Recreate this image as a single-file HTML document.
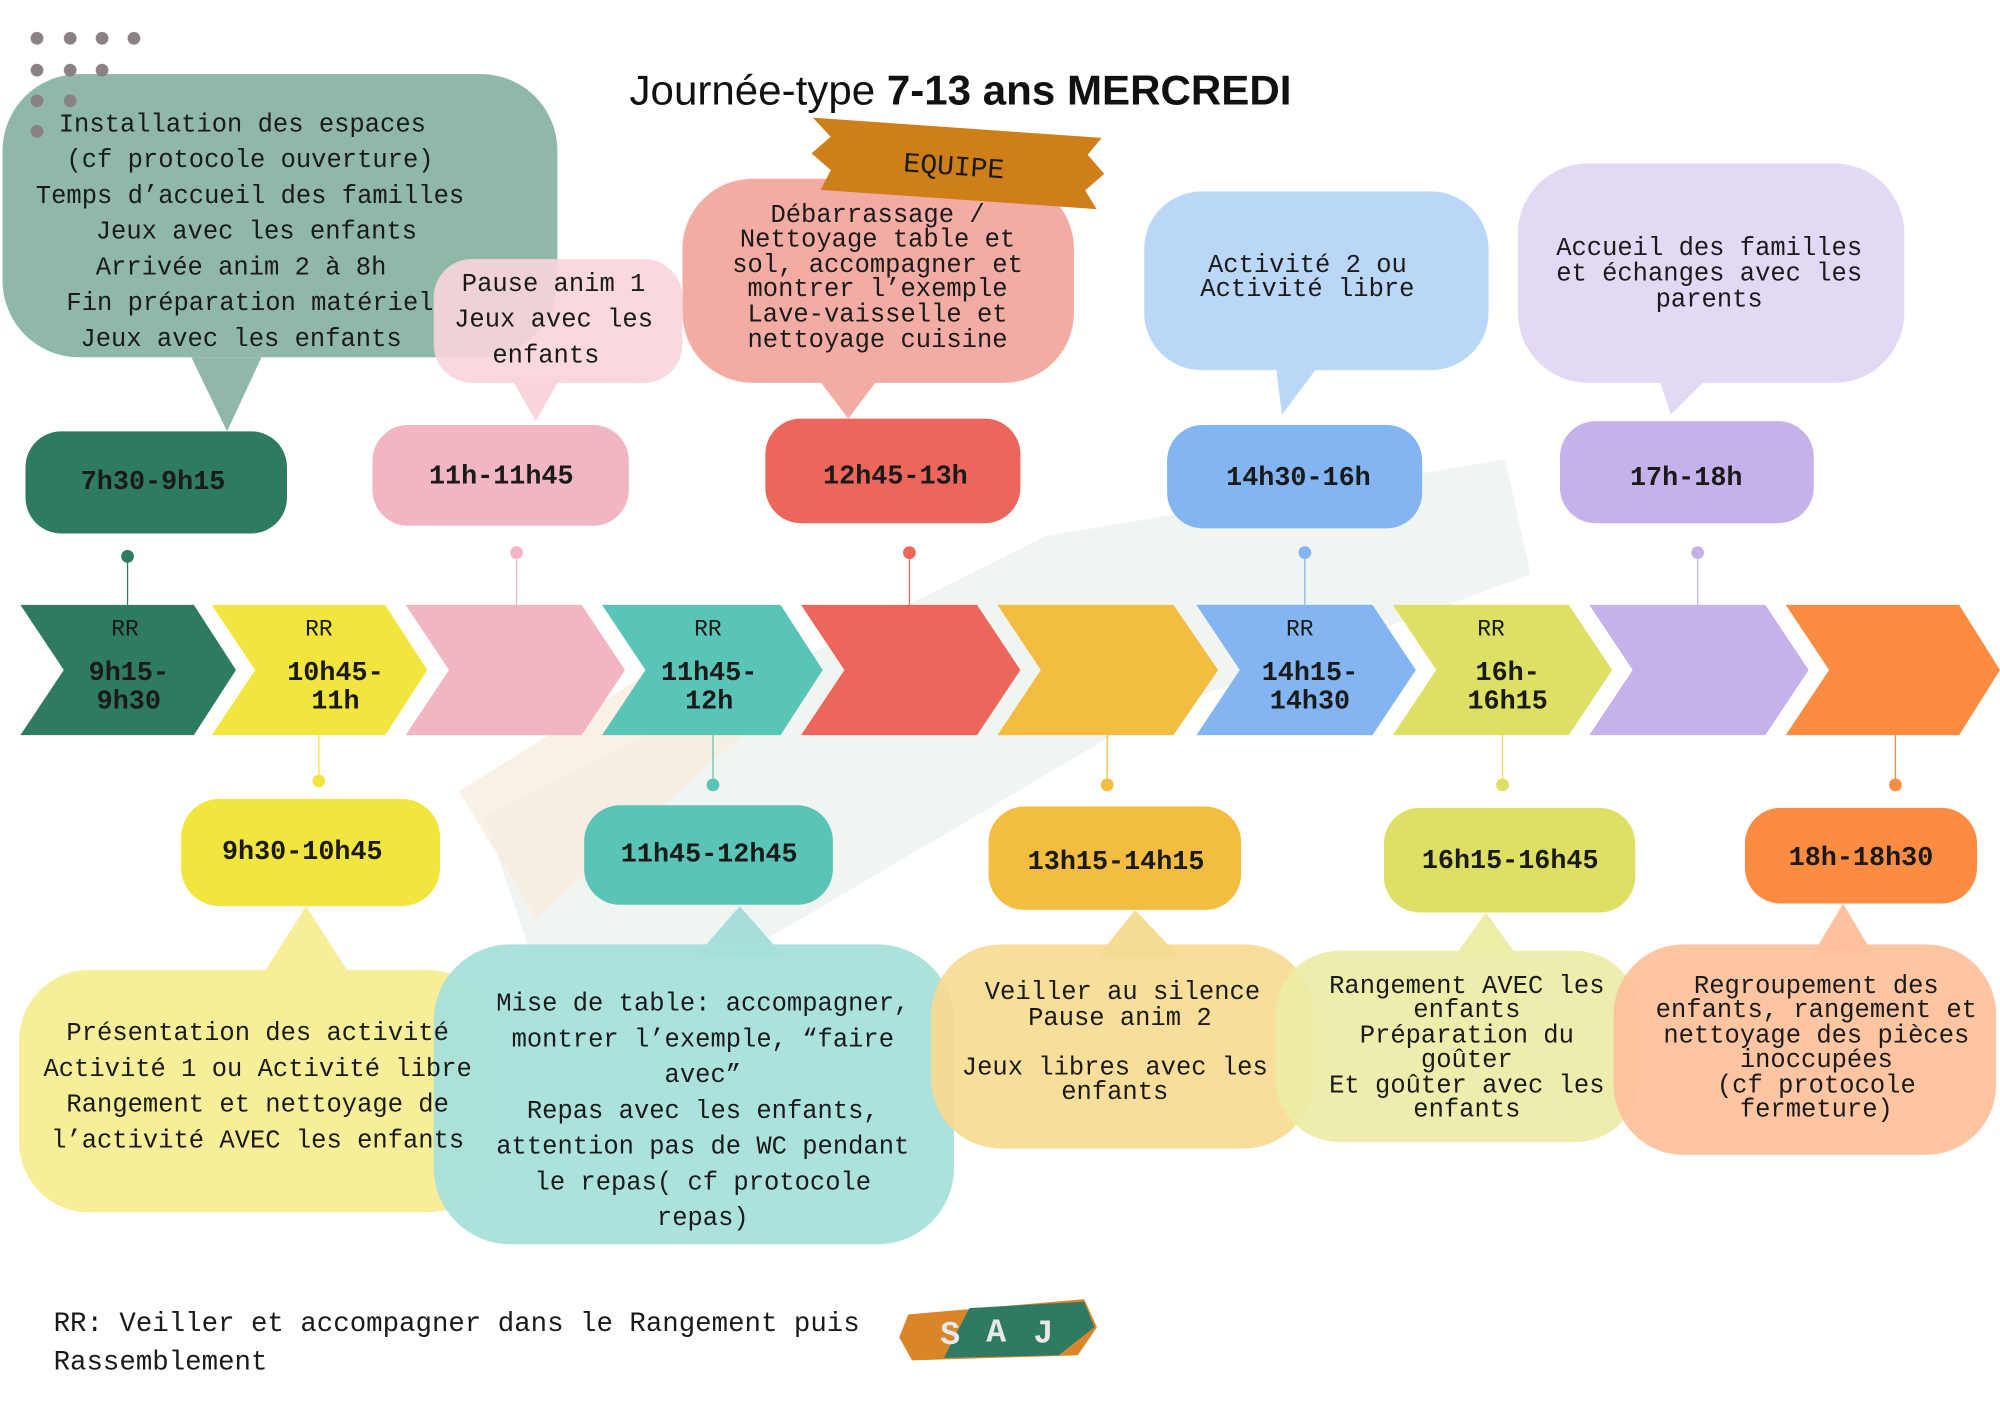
<!DOCTYPE html>
<html><head><meta charset="utf-8"><style>
html,body{margin:0;padding:0;background:#fff}
svg{display:block}
text{font-family:"Liberation Mono",monospace;fill:#1a1a1a}
</style></head><body>
<svg width="2000" height="1414" viewBox="0 0 1568 1108" preserveAspectRatio="none" xmlns="http://www.w3.org/2000/svg">
<rect width="1568" height="1108" fill="#fff"/>
<!-- faint background brush -->
<path d="M380 640 L820 420 L1180 360 L1200 450 L900 560 L560 760 L420 760 Z" fill="#eef2ee" opacity="0.8"/>
<path d="M360 620 L520 520 L600 560 L420 720 Z" fill="#f8ece0" opacity="0.8"/>
<!-- title -->
<text x="753" y="82" text-anchor="middle" style="font-family:'Liberation Sans',sans-serif;font-size:33px;fill:#111">Journée-type <tspan font-weight="bold">7-13 ans MERCREDI</tspan></text>

<!-- top bubbles -->
<g opacity="0.95">
<path d="M150 280 L178 338 L205 280 Z" fill="#8ab5a5"/>
<rect x="2" y="58" width="435" height="222" rx="60" fill="#8ab5a5"/>
<path d="M400 295 L420 330 L440 295 Z" fill="#f8d3da"/>
<rect x="340" y="203" width="195" height="97" rx="30" fill="#f8d3da" opacity="0.9"/>
<path d="M640 295 L665 328 L690 295 Z" fill="#f3a8a0"/>
<rect x="535" y="140" width="307" height="160" rx="55" fill="#f3a8a0"/>
<path d="M1000 285 L1005 325 L1035 285 Z" fill="#b8d5f8"/>
<rect x="897" y="150" width="270" height="140" rx="45" fill="#b8d5f8"/>
<path d="M1300 295 L1310 325 L1340 295 Z" fill="#e1d7f4"/>
<rect x="1190" y="128" width="303" height="172" rx="55" fill="#e1d7f4"/>
</g>
<!-- dots -->
<g fill="#8a8282">
<circle cx="29" cy="30" r="5"/><circle cx="55" cy="30" r="5"/><circle cx="80" cy="30" r="5"/><circle cx="105" cy="30" r="5"/>
<circle cx="29" cy="55" r="5"/><circle cx="55" cy="55" r="5"/><circle cx="80" cy="55" r="5"/>
<circle cx="29" cy="79" r="5"/><circle cx="55" cy="79" r="5"/>
<circle cx="29" cy="103" r="5"/>
</g>
<!-- EQUIPE banner -->
<g transform="rotate(4 748 128)">
<path d="M635 100 L862 100 L852 114 L866 128 L852 142 L862 156 L645 156 L652 140 L636 128 L650 114 Z" fill="#cf7f1a"/>
<text x="748" y="137" text-anchor="middle" font-size="22">EQUIPE</text>
</g>
<g font-size="20" text-anchor="middle">
<text x="190" y="103">Installation des espaces</text>
<text x="196" y="131">(cf protocole ouverture)</text>
<text x="196" y="159">Temps d’accueil des familles</text>
<text x="201" y="187">Jeux avec les enfants</text>
<text x="189" y="215">Arrivée anim 2 à 8h</text>
<text x="196" y="243">Fin préparation matériel</text>
<text x="189" y="271">Jeux avec les enfants</text>
<text x="434" y="228">Pause anim 1</text>
<text x="434" y="256">Jeux avec les</text>
<text x="428" y="284">enfants</text>
<text x="688" y="174">Débarrassage /</text>
<text x="688" y="193">Nettoyage table et</text>
<text x="688" y="213">sol, accompagner et</text>
<text x="688" y="232">montrer l’exemple</text>
<text x="688" y="252">Lave-vaisselle et</text>
<text x="688" y="272">nettoyage cuisine</text>
<text x="1025" y="213">Activité 2 ou</text>
<text x="1025" y="232">Activité libre</text>
<text x="1340" y="200">Accueil des familles</text>
<text x="1340" y="220">et échanges avec les</text>
<text x="1340" y="240">parents</text>
</g>

<!-- top pills -->
<rect x="20" y="338" width="205" height="80" rx="28" fill="#2e7a62"/>
<rect x="292" y="333" width="201" height="79" rx="28" fill="#f2b6c3"/>
<rect x="600" y="328" width="200" height="82" rx="28" fill="#ec665b"/>
<rect x="915" y="333" width="200" height="81" rx="28" fill="#82b5f1"/>
<rect x="1223" y="330" width="199" height="80" rx="28" fill="#c5b2ea"/>
<g font-size="21" text-anchor="middle" font-weight="bold">
<text x="120" y="383">7h30-9h15</text>
<text x="393" y="379">11h-11h45</text>
<text x="702" y="379">12h45-13h</text>
<text x="1018" y="380">14h30-16h</text>
<text x="1322" y="380">17h-18h</text>
</g>
<!-- connectors -->
<g stroke-width="1">
<line x1="100" y1="436" x2="100" y2="474" stroke="#2e7a62"/><circle cx="100" cy="436" r="5" fill="#2e7a62"/>
<line x1="405" y1="433" x2="405" y2="474" stroke="#f2b6c3"/><circle cx="405" cy="433" r="5" fill="#f2b6c3"/>
<line x1="713" y1="433" x2="713" y2="474" stroke="#ec665b"/><circle cx="713" cy="433" r="5" fill="#ec665b"/>
<line x1="1023" y1="433" x2="1023" y2="474" stroke="#82b5f1"/><circle cx="1023" cy="433" r="5" fill="#82b5f1"/>
<line x1="1331" y1="433" x2="1331" y2="474" stroke="#c5b2ea"/><circle cx="1331" cy="433" r="5" fill="#c5b2ea"/>
<line x1="250" y1="576" x2="250" y2="612" stroke="#f2e63e"/><circle cx="250" cy="612" r="5" fill="#f2e63e"/>
<line x1="559" y1="576" x2="559" y2="615" stroke="#5ac5b6"/><circle cx="559" cy="615" r="5" fill="#5ac5b6"/>
<line x1="868" y1="576" x2="868" y2="615" stroke="#f3bd42"/><circle cx="868" cy="615" r="5" fill="#f3bd42"/>
<line x1="1178" y1="576" x2="1178" y2="615" stroke="#dde064"/><circle cx="1178" cy="615" r="5" fill="#dde064"/>
<line x1="1486" y1="576" x2="1486" y2="615" stroke="#fd8c43"/><circle cx="1486" cy="615" r="5" fill="#fd8c43"/>
</g>
<!-- chevrons -->
<g>
<path d="M16 474 L152 474 L185 525 L152 576 L16 576 L50 525 Z" fill="#2e7a62"/>
<path d="M166 474 L302 474 L335 525 L302 576 L166 576 L200 525 Z" fill="#f2e63e"/>
<path d="M318 474 L456 474 L490 525 L456 576 L318 576 L352 525 Z" fill="#f2b6c3"/>
<path d="M472 474 L612 474 L645 525 L612 576 L472 576 L506 525 Z" fill="#5ac5b6"/>
<path d="M628 474 L766 474 L800 525 L766 576 L628 576 L662 525 Z" fill="#ec665b"/>
<path d="M782 474 L920 474 L955 525 L920 576 L782 576 L816 525 Z" fill="#f3bd42"/>
<path d="M938 474 L1076 474 L1110 525 L1076 576 L938 576 L972 525 Z" fill="#82b5f1"/>
<path d="M1092 474 L1230 474 L1264 525 L1230 576 L1092 576 L1126 525 Z" fill="#dde064"/>
<path d="M1246 474 L1384 474 L1418 525 L1384 576 L1246 576 L1280 525 Z" fill="#c5b2ea"/>
<path d="M1400 474 L1536 474 L1568 525 L1536 576 L1400 576 L1434 525 Z" fill="#fd8c43"/>
</g>
<g font-size="18" text-anchor="middle">
<text x="98" y="498">RR</text><text x="101" y="533" font-weight="bold" font-size="21">9h15-</text><text x="101" y="555" font-weight="bold" font-size="21">9h30</text>
<text x="250" y="498">RR</text><text x="263" y="533" font-weight="bold" font-size="21">10h45-</text><text x="263" y="555" font-weight="bold" font-size="21">11h</text>
<text x="555" y="498">RR</text><text x="556" y="533" font-weight="bold" font-size="21">11h45-</text><text x="556" y="555" font-weight="bold" font-size="21">12h</text>
<text x="1019" y="498">RR</text><text x="1027" y="533" font-weight="bold" font-size="21">14h15-</text><text x="1027" y="555" font-weight="bold" font-size="21">14h30</text>
<text x="1169" y="498">RR</text><text x="1182" y="533" font-weight="bold" font-size="21">16h-</text><text x="1182" y="555" font-weight="bold" font-size="21">16h15</text>
</g>

<!-- bottom bubbles -->
<g opacity="0.95">
<path d="M205 765 L240 710 L275 765 Z" fill="#f6ee94"/>
<rect x="15" y="760" width="375" height="190" rx="55" fill="#f6ee94"/>
<path d="M545 750 L580 710 L615 750 Z" fill="#a2ded8"/>
<rect x="340" y="740" width="408" height="235" rx="60" fill="#a2ded8" opacity="0.95"/>
<path d="M860 750 L890 713 L925 750 Z" fill="#f6da8e"/>
<rect x="730" y="740" width="300" height="160" rx="55" fill="#f6da8e" opacity="0.95"/>
<path d="M1140 750 L1165 715 L1190 750 Z" fill="#ebeca3"/>
<rect x="1000" y="745" width="285" height="150" rx="50" fill="#ebeca3" opacity="0.95"/>
<path d="M1420 750 L1445 708 L1470 750 Z" fill="#fdbf98"/>
<rect x="1265" y="740" width="300" height="165" rx="55" fill="#fdbf98" opacity="0.95"/>
</g>
<!-- bottom pills -->
<rect x="142" y="626" width="203" height="84" rx="30" fill="#f2e63e"/>
<rect x="458" y="631" width="195" height="78" rx="28" fill="#5ac5b6"/>
<rect x="775" y="632" width="198" height="81" rx="28" fill="#f3bd42"/>
<rect x="1085" y="633" width="197" height="82" rx="28" fill="#dde064"/>
<rect x="1368" y="633" width="182" height="75" rx="28" fill="#fd8c43"/>
<g font-size="21" font-weight="bold" text-anchor="middle">
<text x="237" y="673">9h30-10h45</text>
<text x="556" y="675">11h45-12h45</text>
<text x="875" y="681">13h15-14h15</text>
<text x="1184" y="680">16h15-16h45</text>
<text x="1459" y="678">18h-18h30</text>
</g>
<g font-size="20" text-anchor="middle">
<text x="202" y="815">Présentation des activité</text>
<text x="202" y="843">Activité 1 ou Activité libre</text>
<text x="202" y="871">Rangement et nettoyage de</text>
<text x="202" y="899">l’activité AVEC les enfants</text>
<text x="551" y="792">Mise de table: accompagner,</text>
<text x="551" y="820">montrer l’exemple, “faire</text>
<text x="551" y="848">avec”</text>
<text x="551" y="876">Repas avec les enfants,</text>
<text x="551" y="904">attention pas de WC pendant</text>
<text x="551" y="932">le repas( cf protocole</text>
<text x="551" y="960">repas)</text>
<text x="880" y="783">Veiller au silence</text>
<text x="878" y="803">Pause anim 2</text>
<text x="874" y="842">Jeux libres avec les</text>
<text x="874" y="861">enfants</text>
<text x="1150" y="778">Rangement AVEC les</text>
<text x="1150" y="797">enfants</text>
<text x="1150" y="817">Préparation du</text>
<text x="1150" y="836">goûter</text>
<text x="1150" y="856">Et goûter avec les</text>
<text x="1150" y="875">enfants</text>
<text x="1424" y="778">Regroupement des</text>
<text x="1424" y="797">enfants, rangement et</text>
<text x="1424" y="817">nettoyage des pièces</text>
<text x="1424" y="836">inoccupées</text>
<text x="1424" y="856">(cf protocole</text>
<text x="1424" y="875">fermeture)</text>
</g>
<!-- footer -->
<text x="42" y="1043" font-size="21.5">RR: Veiller et accompagner dans le Rangement puis</text>
<text x="42" y="1073" font-size="21.5">Rassemblement</text>
<path d="M712 1030 L850 1018 L860 1040 L845 1062 L715 1066 L705 1048 Z" fill="#d9862a"/>
<path d="M760 1025 L850 1020 L858 1040 L830 1062 L740 1064 Z" fill="#2e7a62"/>
<g font-size="26" font-weight="bold" text-anchor="middle">
<text x="745" y="1053" style="fill:#e8e8e8">S</text><text x="781" y="1051" style="fill:#e8e8e8">A</text><text x="818" y="1052" style="fill:#e8e8e8">J</text>
</g>
</svg>
</body></html>
